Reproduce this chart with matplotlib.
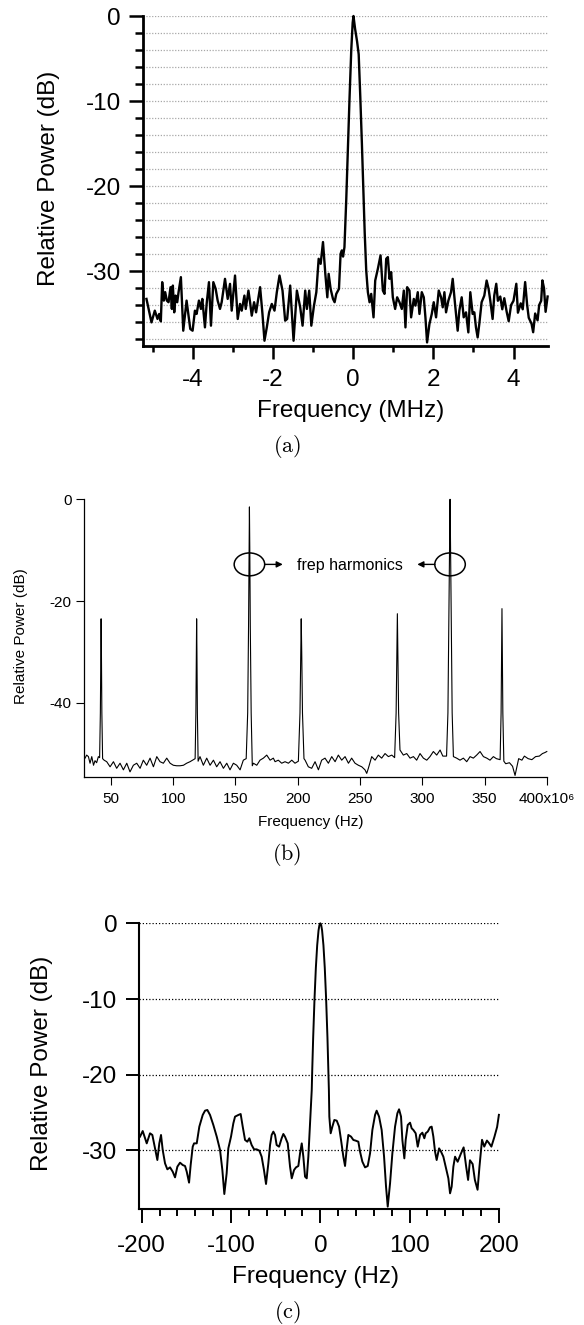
import matplotlib
matplotlib.use('Agg')
import matplotlib.pyplot as plt
from matplotlib.patches import Ellipse
from matplotlib.ticker import FixedLocator

plt.rcParams['font.family'] = ['Liberation Sans', 'DejaVu Sans']
plt.rcParams['axes.unicode_minus'] = False
plt.rcParams['mathtext.fontset'] = 'cm'

# ---------------- data: panel (a) ----------------
freq_a = [-5.151, -5.026, -4.943, -4.876, -4.834, -4.793, -4.759, -4.718, -4.684, -4.643,
          -4.601, -4.551, -4.518, -4.493, -4.459, -4.426, -4.384, -4.351, -4.293, -4.234,
          -4.151, -4.109, -4.059, -4.001, -3.943, -3.901, -3.843, -3.793, -3.759, -3.693,
          -3.651, -3.593, -3.543, -3.484, -3.426, -3.376, -3.318, -3.276, -3.193, -3.126,
          -3.068, -3.026, -2.943, -2.876, -2.818, -2.776, -2.709, -2.676, -2.609, -2.568,
          -2.526, -2.468, -2.418, -2.318, -2.259, -2.209, -2.151, -2.093, -2.026, -1.959,
          -1.901, -1.834, -1.759, -1.693, -1.643, -1.568, -1.484, -1.401, -1.318, -1.259,
          -1.193, -1.151, -1.093, -1.041, -0.975, -0.916, -0.858, -0.808, -0.750, -0.692,
          -0.642, -0.609, -0.560, -0.501, -0.460, -0.419, -0.352, -0.311, -0.278, -0.250,
          -0.215, -0.17, -0.13, -0.09, -0.045, -0.01, 0.01, 0.05, 0.10, 0.14,
          0.18, 0.22, 0.26, 0.29, 0.328, 0.369, 0.411, 0.452, 0.510, 0.552,
          0.618, 0.685, 0.743, 0.784, 0.826, 0.867, 0.908, 0.950, 0.991, 1.049,
          1.099, 1.157, 1.215, 1.265, 1.306, 1.348, 1.406, 1.447, 1.514, 1.555,
          1.613, 1.655, 1.713, 1.763, 1.804, 1.845, 1.904, 1.962, 2.011, 2.069,
          2.136, 2.194, 2.235, 2.277, 2.318, 2.376, 2.442, 2.484, 2.542, 2.608,
          2.650, 2.708, 2.758, 2.816, 2.874, 2.923, 2.981, 3.023, 3.064, 3.106,
          3.147, 3.205, 3.272, 3.330, 3.379, 3.421, 3.479, 3.520, 3.57, 3.61,
          3.67, 3.72, 3.77, 3.83, 3.88, 3.94, 4.00, 4.07, 4.11, 4.18,
          4.23, 4.29, 4.34, 4.38, 4.45, 4.49, 4.54, 4.60, 4.64, 4.69,
          4.72, 4.76, 4.80, 4.85]
power_a = [-33.28, -36.04, -34.66, -35.64, -35.05, -35.92, -31.31, -33.48, -32.49, -33.48,
           -33.67, -31.90, -34.46, -31.71, -34.86, -32.89, -33.67, -32.49, -30.72, -37.02,
           -33.48, -35.05, -36.82, -37.02, -34.66, -35.05, -33.48, -34.46, -33.28, -36.63,
           -33.87, -31.31, -36.43, -31.31, -32.10, -33.48, -34.46, -33.67, -30.92, -33.28,
           -31.51, -34.66, -30.53, -35.64, -33.87, -34.66, -32.89, -34.46, -32.30, -33.67,
           -35.25, -33.67, -34.86, -31.90, -35.05, -38.20, -36.63, -34.86, -33.87, -34.66,
           -32.49, -30.53, -32.30, -35.84, -35.64, -31.71, -38.20, -32.30, -34.27, -36.43,
           -32.30, -34.46, -32.30, -36.43, -34.07, -32.49, -28.56, -29.15, -26.59, -30.33,
           -33.09, -30.33, -32.10, -33.28, -33.67, -32.69, -32.10, -27.97, -27.57, -28.30,
           -27.20, -21.6, -15.8, -9.9, -4.0, -0.8, 0.0, -1.5, -3.0, -4.5,
           -9.5, -15.0, -21.0, -25.5, -29.93, -32.49, -33.67, -32.69, -35.45, -31.12,
           -29.74, -28.16, -32.30, -32.69, -28.56, -28.36, -30.92, -30.13, -33.09, -34.46,
           -33.09, -33.67, -34.46, -32.30, -36.63, -31.90, -32.30, -35.45, -33.28, -34.07,
           -32.49, -35.05, -32.49, -33.09, -35.45, -38.40, -36.23, -35.05, -33.67, -35.45,
           -32.30, -33.09, -34.27, -32.49, -34.86, -33.48, -32.49, -30.92, -33.87, -37.02,
           -34.66, -33.09, -35.45, -34.86, -37.22, -32.49, -35.05, -34.86, -36.63, -37.81,
           -36.23, -33.67, -32.89, -31.12, -32.10, -33.48, -35.64, -32.89, -31.5, -33.5,
           -33.0, -34.5, -33.2, -34.8, -35.9, -34.0, -33.5, -31.5, -34.9, -33.8,
           -34.5, -31.3, -34.0, -35.5, -36.2, -37.2, -35.0, -35.8, -34.0, -33.5,
           -31.1, -32.0, -34.8, -33.0]

# ---------------- data: panel (b) ----------------
freq_b = [29.2, 30.5, 31.9, 33.2, 34.6, 36.0, 37.2, 38.5, 39.9, 40.9,
          41.5, 41.85, 42.1, 42.35, 42.7, 43.3, 44.5, 46.6, 49.3, 52.0,
          54.6, 57.3, 60.0, 62.7, 65.3, 68.0, 70.7, 73.4, 76.0, 78.7,
          81.4, 84.1, 86.8, 89.4, 92.1, 94.8, 97.5, 100.1, 102.8, 105.5,
          108.2, 110.8, 113.5, 116.2, 117.6, 118.2, 118.55, 118.8, 119.05, 119.4,
          120.0, 121.5, 124.2, 126.9, 129.6, 132.3, 134.9, 137.6, 140.3, 143.0,
          145.6, 148.3, 151.0, 153.7, 156.3, 158.6, 159.8, 160.5, 160.9, 161.2,
          161.5, 161.9, 162.6, 163.5, 164.4, 167.1, 169.7, 172.4, 175.1, 177.8,
          180.4, 181.8, 184.4, 187.1, 189.8, 192.5, 195.2, 197.8, 200.5, 201.8,
          202.4, 202.8, 203.2, 203.8, 205.0, 205.9, 208.5, 211.2, 213.9, 216.6,
          219.2, 221.9, 224.6, 227.3, 230.0, 232.6, 235.3, 238.0, 240.7, 243.3,
          246.0, 248.7, 251.4, 254.0, 255.4, 256.7, 259.4, 262.1, 264.7, 267.4,
          270.1, 272.8, 275.5, 277.8, 279.0, 279.6, 280.0, 280.4, 281.0, 282.1,
          284.8, 287.5, 290.2, 292.9, 295.5, 298.2, 300.9, 303.6, 306.2, 308.9,
          311.6, 314.3, 316.5, 319.5, 320.6, 321.3, 321.9, 322.3, 322.7, 323.3,
          324.0, 325.0, 327.6, 330.3, 333.0, 335.7, 338.4, 341.0, 343.7, 346.4,
          349.1, 351.8, 354.4, 357.1, 359.5, 362.5, 363.3, 363.7, 364.0, 364.3,
          364.7, 365.5, 367.0, 370.0, 372.5, 374.5, 377.4, 380.0, 382.0, 385.0,
          388.0, 391.0, 394.0, 396.5, 398.5, 400.0]
power_b = [-50.9, -50.3, -50.6, -51.9, -50.6, -52.3, -51.4, -51.8, -50.6, -50.8,
           -42.0, -30.0, -23.5, -30.0, -42.0, -51.0, -51.3, -51.6, -52.6, -51.6,
           -52.9, -51.9, -53.2, -51.9, -53.6, -52.3, -51.9, -52.9, -51.3, -52.3,
           -50.9, -52.6, -50.6, -51.6, -51.9, -50.9, -51.9, -52.3, -52.4, -52.4,
           -52.3, -51.9, -51.6, -51.2, -51.0, -42.0, -30.0, -23.5, -30.0, -42.0,
           -51.5, -50.6, -52.3, -50.9, -52.3, -51.3, -52.6, -51.6, -52.9, -51.9,
           -53.2, -51.9, -52.3, -53.2, -51.3, -51.0, -42.0, -25.0, -10.0, -1.5,
           -10.0, -25.0, -42.0, -52.4, -51.9, -52.3, -51.3, -50.9, -50.3, -51.3,
           -50.9, -51.6, -51.3, -51.9, -51.6, -51.9, -51.3, -51.9, -51.5, -42.0,
           -30.0, -23.5, -30.0, -42.0, -51.0, -51.3, -52.6, -52.9, -51.6, -53.2,
           -51.3, -50.9, -51.9, -50.6, -51.6, -50.3, -51.3, -50.6, -51.9, -50.9,
           -51.9, -52.3, -52.6, -53.2, -53.9, -52.9, -50.6, -51.3, -50.3, -50.9,
           -50.0, -50.6, -50.3, -50.8, -42.0, -30.0, -22.5, -30.0, -42.0, -49.3,
           -50.3, -50.0, -50.9, -50.6, -51.3, -50.0, -50.9, -51.3, -50.6, -49.6,
           -50.3, -49.3, -50.5, -50.5, -42.0, -25.0, -9.0, 0.0, -9.0, -25.0,
           -42.0, -50.6, -50.9, -51.3, -50.9, -51.6, -50.6, -50.9, -50.3, -49.6,
           -50.6, -50.9, -51.3, -50.6, -51.0, -51.2, -42.0, -30.0, -21.5, -30.0,
           -42.0, -51.5, -52.0, -51.8, -52.5, -54.3, -51.0, -51.3, -50.5, -51.0,
           -51.2, -50.6, -50.5, -50.0, -49.8, -49.6]
ticks_b = [50, 100, 150, 200, 250, 300, 350, 400]
ticklabels_b = ['50', '100', '150', '200', '250', '300', '350', '400x10\u2076']
harmonic_freqs = [161.2, 322.3]
annot_text = 'frep harmonics'

# ---------------- data: panel (c) ----------------
freq_c = [-201.9, -198.9, -194.4, -190.7, -188.1, -185.1, -182.5, -180.3, -178.4, -176.5,
          -173.9, -171.3, -168.3, -165.3, -162.7, -160.1, -157.1, -154.1, -151.5, -149.6,
          -147.0, -145.2, -142.9, -141.4, -138.4, -135.5, -131.7, -129.1, -126.5, -123.5,
          -119.8, -116.0, -112.3, -109.7, -107.5, -104.9, -103.0, -100.0, -97.4, -95.5,
          -91.8, -89.2, -86.9, -84.3, -81.7, -79.5, -76.9, -74.2, -71.3, -68.3,
          -65.7, -63.1, -60.8, -58.2, -56.3, -54.5, -52.6, -50.7, -48.9, -46.2,
          -43.3, -41.4, -39.5, -36.5, -33.9, -32.0, -29.4, -27.2, -24.6, -22.7,
          -20.8, -19.0, -17.1, -15.2, -13.4, -11.5, -9.6, -9.0, -8.0, -6.5,
          -5.0, -3.5, -2.0, -1.0, 0.0, 1.0, 2.0, 3.5, 5.0, 6.5,
          8.0, 9.0, 9.6, 10.1, 11.6, 13.5, 15.7, 18.4, 21.0, 23.2,
          25.8, 27.7, 29.6, 31.4, 34.4, 37.0, 39.6, 42.6, 44.5, 47.1,
          50.1, 53.1, 55.7, 58.3, 61.3, 63.1, 65.8, 68.7, 71.4, 73.6,
          75.5, 78.1, 80.7, 83.7, 86.3, 88.2, 90.4, 91.9, 94.1, 95.6,
          97.9, 100.5, 102.3, 104.2, 106.8, 109.1, 111.7, 114.3, 116.5, 118.0,
          120.3, 122.9, 124.7, 126.6, 128.5, 130.3, 133.0, 135.2, 137.8, 140.4,
          143.4, 145.3, 147.1, 149.0, 150.9, 153.8, 157.2, 160.5, 163.4, 165.5,
          167.6, 170.6, 173.1, 176.1, 178.2, 181.1, 183.6, 186.6, 188.7, 191.6,
          195.0, 198.0, 200.0]
power_c = [-28.18, -27.44, -29.07, -27.74, -27.96, -29.73, -31.27, -29.07, -27.96, -29.95,
           -31.71, -32.50, -32.24, -32.81, -33.56, -32.15, -31.62, -31.93, -32.06, -32.81,
           -34.26, -31.93, -29.51, -29.07, -29.07, -26.86, -25.32, -24.75, -24.66, -25.32,
           -26.64, -28.18, -29.95, -32.59, -35.76, -33.03, -29.73, -28.18, -26.42, -25.54,
           -25.32, -25.19, -26.86, -28.62, -28.85, -28.40, -29.29, -29.86, -29.86, -30.03,
           -30.83, -32.59, -34.44, -31.71, -29.29, -27.96, -27.52, -27.96, -29.29, -29.51,
           -28.40, -27.83, -28.20, -29.07, -32.15, -33.69, -32.59, -32.24, -32.06, -30.39,
           -29.07, -30.83, -33.47, -33.69, -30.83, -26.42, -22.02, -19.2, -15.1, -10.0,
           -5.9, -2.9, -0.95, -0.24, 0.0, -0.24, -0.95, -2.9, -5.9, -10.0,
           -15.1, -19.2, -22.0, -25.54, -27.74, -26.86, -25.98, -26.07, -26.86, -28.62,
           -30.83, -32.06, -29.73, -27.96, -28.18, -28.62, -28.71, -28.85, -30.17, -31.49,
           -32.24, -32.06, -30.39, -27.30, -25.32, -24.75, -25.54, -27.30, -30.83, -34.79,
           -37.43, -34.35, -30.39, -26.86, -25.10, -24.57, -25.54, -28.62, -31.05, -28.62,
           -26.64, -26.34, -27.08, -27.30, -27.74, -29.51, -27.96, -27.66, -28.40, -27.74,
           -27.52, -26.95, -26.86, -28.18, -30.17, -31.27, -29.73, -30.17, -30.83, -32.15,
           -33.69, -35.67, -34.79, -32.15, -30.83, -31.5, -30.5, -29.6, -32.2, -33.9,
           -31.3, -31.8, -33.9, -35.2, -32.2, -28.6, -29.5, -28.7, -29.0, -29.5,
           -28.2, -26.9, -25.3]

# ---------------- figure ----------------
W, H = 584, 1325
fig = plt.figure(figsize=(W / 100, H / 100), dpi=100)


def axes_px(left, top, right, bottom):
    return fig.add_axes([left / W, 1 - bottom / H, (right - left) / W, (bottom - top) / H])


def center_labels(ax):
    ax.xaxis.label.set_verticalalignment('center')
    ax.yaxis.label.set_verticalalignment('center')


# ----- panel (a) -----
FS_A = 17.5
ax = axes_px(143.3, 16, 547.6, 346)
ax.plot(freq_a, power_a, color='k', lw=1.7, clip_on=False, zorder=3)
ax.set_xlim(-5.23, 4.85)
ax.set_ylim(-38.82, 0)
for s in ('top', 'right'):
    ax.spines[s].set_visible(False)
for s in ('left', 'bottom'):
    ax.spines[s].set_linewidth(2)
ax.set_yticks([0, -10, -20, -30])
ax.yaxis.set_minor_locator(FixedLocator([v for v in range(-38, 0, 2) if v % 10 != 0]))
ax.set_xticks([-4, -2, 0, 2, 4])
ax.xaxis.set_minor_locator(FixedLocator([-5, -3, -1, 1, 3]))
ax.grid(axis='y', which='both', color='#a8a8a8', ls=(0, (1, 1.3)), lw=0.9, zorder=0)
ax.tick_params(axis='y', which='major', length=10, width=1.8, pad=6, labelsize=FS_A)
ax.tick_params(axis='y', which='minor', length=5.8, width=1.8)
ax.tick_params(axis='x', which='major', length=9.4, width=1.8, pad=7, labelsize=FS_A)
ax.tick_params(axis='x', which='minor', length=4.3, width=1.8)
ax.set_ylabel('Relative Power (dB)', fontsize=FS_A)
ax.set_xlabel('Frequency (MHz)', fontsize=FS_A)
center_labels(ax)
ax.yaxis.set_label_coords(-0.234, 0.508)
ax.xaxis.set_label_coords(0.512, -0.197)

# ----- panel (b) -----
FS_B = 11
ax = axes_px(84.3, 499.3, 546.8, 776.7)
ax.plot(freq_b, power_b, color='k', lw=0.8, clip_on=False)
ax.set_xlim(28.6, 400)
ax.set_ylim(-54.55, 0)
for s in ('top', 'right'):
    ax.spines[s].set_visible(False)
for s in ('left', 'bottom'):
    ax.spines[s].set_linewidth(0.9)
ax.set_yticks([0, -20, -40])
ax.set_xticks(ticks_b)
ax.set_xticklabels(ticklabels_b)
ax.tick_params(axis='both', length=6, width=0.8, labelsize=FS_B)
ax.tick_params(axis='y', pad=3)
ax.tick_params(axis='x', pad=5)
ax.set_ylabel('Relative Power (dB)', fontsize=FS_B)
ax.set_xlabel('Frequency (Hz)', fontsize=FS_B)
center_labels(ax)
ax.yaxis.set_label_coords(-0.136, 0.505)
ax.xaxis.set_label_coords(0.49, -0.163)
for hf in harmonic_freqs:
    ax.add_patch(Ellipse((hf, -12.8), width=24.5, height=4.5, fill=False, lw=1.1, color='k'))
ax.annotate('', xy=(188, -12.8), xytext=(harmonic_freqs[0] + 12.2, -12.8),
            arrowprops=dict(arrowstyle='-|>', lw=1.0, color='k', mutation_scale=9, shrinkA=0, shrinkB=0))
ax.annotate('', xy=(296, -12.8), xytext=(harmonic_freqs[1] - 12.2, -12.8),
            arrowprops=dict(arrowstyle='-|>', lw=1.0, color='k', mutation_scale=9, shrinkA=0, shrinkB=0))
ax.text(242, -13.0, annot_text, ha='center', va='center', fontsize=11.5)

# ----- panel (c) -----
FS_C = 17.5
ax = axes_px(138.6, 923.3, 498.9, 1209)
ax.plot(freq_c, power_c, color='k', lw=1.4, clip_on=False, zorder=3)
ax.set_xlim(-203.5, 200)
ax.set_ylim(-37.74, 0)
for s in ('top', 'right'):
    ax.spines[s].set_visible(False)
for s in ('left', 'bottom'):
    ax.spines[s].set_linewidth(1.5)
ax.set_yticks([0, -10, -20, -30])
ax.set_xticks([-200, -100, 0, 100, 200])
ax.xaxis.set_minor_locator(FixedLocator([v for v in range(-180, 200, 20) if v % 100 != 0]))
ax.grid(axis='y', which='major', color='k', ls=(0, (1, 1.6)), lw=0.9, zorder=0)
ax.tick_params(axis='y', which='major', length=9.4, width=1.4, pad=6, labelsize=FS_C)
ax.tick_params(axis='x', which='major', length=10, width=1.4, pad=8.5, labelsize=FS_C)
ax.tick_params(axis='x', which='minor', length=5, width=1.4)
ax.set_ylabel('Relative Power (dB)', fontsize=FS_C)
ax.set_xlabel('Frequency (Hz)', fontsize=FS_C)
center_labels(ax)
ax.yaxis.set_label_coords(-0.268, 0.508)
ax.xaxis.set_label_coords(0.491, -0.238)

# ----- captions -----
for lab, yc in (('(a)', 446), ('(b)', 854), ('(c)', 1312.5)):
    fig.text(287 / W, 1 - yc / H, r'$\mathrm{' + lab + '}$', ha='center', va='center', fontsize=16)

fig.savefig('out.png', dpi=100)
